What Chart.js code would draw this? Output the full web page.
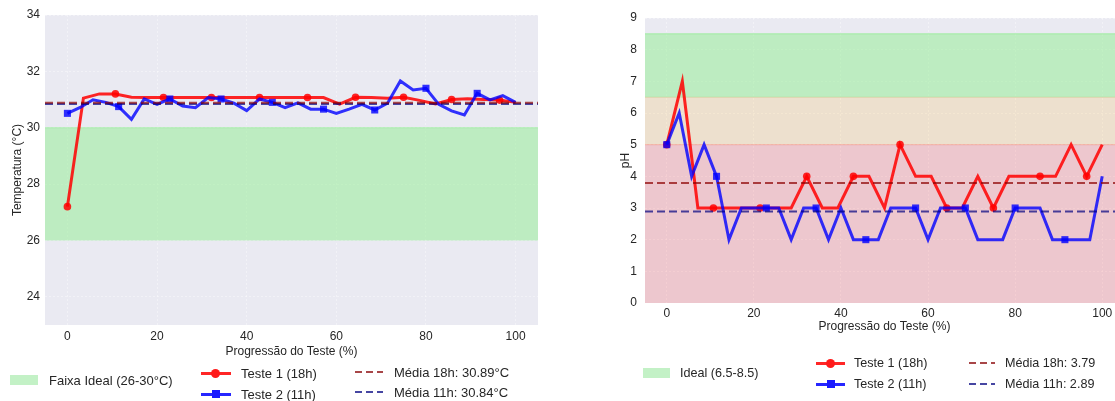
<!DOCTYPE html>
<html><head><meta charset="utf-8">
<script src="https://cdn.jsdelivr.net/npm/chart.js@4"></script>
<style>
html,body{margin:0;padding:0;width:1115px;height:401px;overflow:hidden;background:#fff;font-family:"Liberation Sans",Arial,sans-serif;}
canvas{position:absolute;top:0;}
#c1{left:0;}
#c2{left:560px;}
.lg{position:absolute;color:#262626;white-space:nowrap;line-height:1;transform:translateY(-50%);}
.sw{position:absolute;}
</style></head><body>
<canvas id="c1" width="560" height="401"></canvas>
<canvas id="c2" width="570" height="401"></canvas>

<!-- left legend -->
<div class="sw" style="left:10px;top:375px;width:28px;height:10px;background:#c3f1c6;"></div>
<div class="lg" style="left:49px;top:380px;font-size:13px;">Faixa Ideal (26-30°C)</div>
<div class="sw" style="left:201px;top:372px;width:30px;height:3px;background:rgba(255,0,0,0.85);"></div>
<div class="sw" style="left:211px;top:369px;width:9px;height:9px;border-radius:50%;background:#ff1a1a;"></div>
<div class="lg" style="left:241px;top:373px;font-size:13px;">Teste 1 (18h)</div>
<div class="sw" style="left:201px;top:393px;width:30px;height:3px;background:rgba(0,0,255,0.85);"></div>
<div class="sw" style="left:212px;top:390px;width:8px;height:8px;background:#1a1aff;"></div>
<div class="lg" style="left:241px;top:394px;font-size:13px;">Teste 2 (11h)</div>
<div class="sw" style="left:355px;top:371px;width:28px;height:2px;background:repeating-linear-gradient(90deg,#a84648 0 7px,transparent 7px 11px);"></div>
<div class="lg" style="left:394px;top:372px;font-size:13px;">Média 18h: 30.89°C</div>
<div class="sw" style="left:355px;top:391px;width:28px;height:2px;background:repeating-linear-gradient(90deg,#4646a2 0 7px,transparent 7px 11px);"></div>
<div class="lg" style="left:394px;top:392px;font-size:13px;">Média 11h: 30.84°C</div>

<!-- right legend -->
<div class="sw" style="left:643px;top:368px;width:27px;height:10px;background:#c3f1c6;"></div>
<div class="lg" style="left:680px;top:373px;font-size:12.6px;">Ideal (6.5-8.5)</div>
<div class="sw" style="left:816px;top:362px;width:29px;height:3px;background:rgba(255,0,0,0.85);"></div>
<div class="sw" style="left:826px;top:359px;width:9px;height:9px;border-radius:50%;background:#ff1a1a;"></div>
<div class="lg" style="left:854px;top:363px;font-size:12.6px;">Teste 1 (18h)</div>
<div class="sw" style="left:816px;top:383px;width:29px;height:3px;background:rgba(0,0,255,0.85);"></div>
<div class="sw" style="left:827px;top:380px;width:8px;height:8px;background:#1a1aff;"></div>
<div class="lg" style="left:854px;top:384px;font-size:12.6px;">Teste 2 (11h)</div>
<div class="sw" style="left:969px;top:362px;width:26px;height:2px;background:repeating-linear-gradient(90deg,#a84648 0 7px,transparent 7px 11px);"></div>
<div class="lg" style="left:1005px;top:363px;font-size:12.6px;">Média 18h: 3.79</div>
<div class="sw" style="left:969px;top:383px;width:26px;height:2px;background:repeating-linear-gradient(90deg,#4646a2 0 7px,transparent 7px 11px);"></div>
<div class="lg" style="left:1005px;top:384px;font-size:12.6px;">Média 11h: 2.89</div>

<script>
// ---------- data ----------
const xTicks = [0, 20, 40, 60, 80, 100];
const tempYTicks = [24, 26, 28, 30, 32, 34];
const phYTicks = [0, 1, 2, 3, 4, 5, 6, 7, 8, 9];

const temp18 = [27.2, 31.05, 31.2, 31.2, 31.08, 31.07, 31.07, 31.07, 31.07, 31.07, 31.07, 31.07, 31.07, 31.07, 31.07, 31.07, 31.07,
  30.84, 31.08, 31.07, 31.05, 31.08, 30.97, 30.84, 31.0, 31.03, 31.0, 30.98, 30.9];
const temp11 = [30.51, 30.72, 30.99, 30.9, 30.75, 30.3, 31.02, 30.83, 31.02, 30.77, 30.71, 31.07, 31.02, 30.87, 30.61, 31.02, 30.9, 30.71,
  30.88, 30.66, 30.66, 30.51, 30.66, 30.83, 30.63, 30.87, 31.66, 31.34, 31.4, 30.83, 30.6, 30.45, 31.22, 30.99, 31.14, 30.9];
const ph18 = [5, 7, 3, 3, 3, 3, 3, 3, 3, 4, 3, 3, 4, 4, 3, 5, 4, 4, 3, 3, 4, 3, 4, 4, 4, 4, 5, 4, 5];
const ph11 = [5, 6, 4, 5, 4, 2, 3, 3, 3, 3, 2, 3, 3, 2, 3, 2, 2, 2, 3, 3, 3, 2, 3, 3, 3, 2, 2, 2, 3, 3, 3, 2, 2, 2, 2, 4];

const tempMean18 = 30.89, tempMean11 = 30.84;
const phMean18 = 3.79, phMean11 = 2.89;
const tempIdeal = [26, 30];
const phIdeal = [6.5, 8.5];
const phWarn = [5, 6.5];
const phBad = [0, 5];
const xRange = [-5, 105];

// ---------- helpers ----------
const FONT = '"Liberation Sans", Arial, sans-serif';
const TXT = '#262626';
const toXY = arr => arr.map((v, i) => ({x: i * 100 / (arr.length - 1), y: v}));
const hline = v => [{x: xRange[0], y: v}, {x: xRange[1], y: v}];

const bgPlugin = {
  id: 'plotbg',
  beforeDraw(chart) {
    const {ctx, chartArea: a} = chart;
    ctx.save();
    ctx.fillStyle = '#eaeaf2';
    ctx.fillRect(a.left, a.top, a.right - a.left, a.bottom - a.top);
    ctx.restore();
  }
};

function band(range, color, edge) {
  return {type: 'line', data: hline(range[1]), fill: {value: range[0]}, backgroundColor: color,
    borderColor: edge, borderWidth: 1, pointRadius: 0, order: 10};
}
function series(vals, color, style, every, r, ord) {
  return {type: 'line', data: toXY(vals), borderColor: color, backgroundColor: color, borderWidth: 3,
    pointStyle: style, pointRadius: c => (c.dataIndex % every === 0 ? r : 0), pointHoverRadius: 0,
    pointBorderWidth: 0, tension: 0, fill: false, order: ord};
}
function meanLine(v, color) {
  return {type: 'line', data: hline(v), borderColor: color, borderWidth: 2, borderDash: [8, 4],
    pointRadius: 0, fill: false, order: 0};
}
function baseOptions(yMin, yMax, yTicks, yTitle, lay) {
  const gridColor = 'rgba(255,255,255,0.4)';
  return {
    responsive: false, animation: false, events: [],
    layout: {padding: lay.padding},
    plugins: {legend: {display: false}, tooltip: {enabled: false}},
    scales: {
      x: {type: 'linear', min: xRange[0], max: xRange[1],
        afterBuildTicks: s => { s.ticks = xTicks.map(v => ({value: v})); },
        afterFit: s => { s.height = lay.xh; },
        ticks: {padding: lay.xtp, color: TXT, font: {family: FONT, size: 12}},
        grid: {drawTicks: false, color: gridColor, lineWidth: 1},
        border: {display: false, dash: [2, 2]},
        title: {display: true, text: 'Progressão do Teste (%)', color: TXT, font: {family: FONT, size: 12},
          padding: {top: 0, bottom: 0}}},
      y: {type: 'linear', min: yMin, max: yMax,
        afterBuildTicks: s => { s.ticks = yTicks.map(v => ({value: v})); },
        afterFit: s => { s.width = lay.yw; },
        ticks: {padding: lay.ytp, color: TXT, font: {family: FONT, size: 12}},
        grid: {drawTicks: false, color: gridColor, lineWidth: 1},
        border: {display: false, dash: [2, 2]},
        title: {display: true, text: yTitle, color: TXT, font: {family: FONT, size: 12},
          padding: {top: lay.ytt, bottom: 0}}}
    }
  };
}

// ---------- left: temperature ----------
new Chart(document.getElementById('c1'), {
  type: 'line',
  data: {datasets: [
    meanLine(tempMean18, 'rgba(139,0,0,0.7)'),
    meanLine(tempMean11, 'rgba(0,0,128,0.7)'),
    series(temp18, 'rgba(255,0,0,0.85)', 'circle', 3, 3.8, 2),
    series(temp11, 'rgba(0,0,255,0.8)', 'rect', 4, 5, 1),
    band(tempIdeal, 'rgba(144,238,144,0.5)', 'rgba(144,238,144,0.6)')
  ]},
  options: baseOptions(23, 34, tempYTicks, 'Temperatura (°C)',
    {padding: {top: 15, right: 22, bottom: 42, left: 0}, xh: 34, yw: 45, xtp: 4, ytp: 5, ytt: 10}),
  plugins: [bgPlugin]
});

// ---------- right: pH ----------
new Chart(document.getElementById('c2'), {
  type: 'line',
  data: {datasets: [
    meanLine(phMean18, 'rgba(139,0,0,0.7)'),
    meanLine(phMean11, 'rgba(0,0,128,0.7)'),
    series(ph18, 'rgba(255,0,0,0.85)', 'circle', 3, 3.8, 2),
    series(ph11, 'rgba(0,0,255,0.8)', 'rect', 4, 5, 1),
    band(phIdeal, 'rgba(144,238,144,0.5)', 'rgba(144,238,144,0.7)'),
    band(phWarn, 'rgba(255,165,0,0.15)', 'rgba(230,160,60,0.3)'),
    band(phBad, 'rgba(255,0,0,0.15)', 'rgba(255,60,60,0.3)')
  ]},
  options: baseOptions(0, 9, phYTicks, 'pH',
    {padding: {top: 18, right: 6, bottom: 67, left: 50}, xh: 31, yw: 35, xtp: 3, ytp: 8, ytt: 8}),
  plugins: [bgPlugin]
});
</script>
</body></html>
